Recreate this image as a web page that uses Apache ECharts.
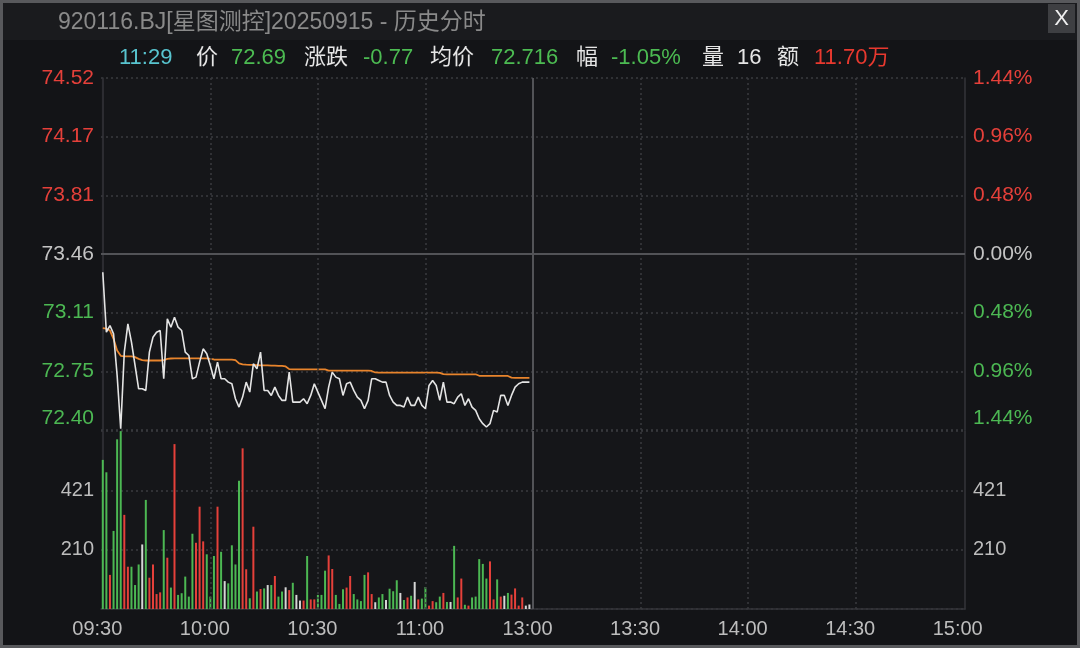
<!DOCTYPE html>
<html>
<head>
<meta charset="utf-8">
<style>html,body{margin:0;padding:0;background:#131417;}#c{width:1080px;height:648px;}</style>
<script src="https://cdn.jsdelivr.net/npm/echarts@6.0.0/dist/echarts.min.js"></script>
</head>
<body>
<div id="c"></div>
<script>
// ---------- data ----------
const PRE_CLOSE = 73.46;
const PCT_RANGE = 1.44;
const PCT_STEP = 0.48;
const VOL_MAX = 631.5;
const VOL_STEP = 210.5;
const timeLabels = ['09:30','10:00','10:30','11:00','13:00','13:30','14:00','14:30','15:00'];
const timeTickMinutes = [0,30,60,90,120,150,180,210,240];

const prices = [
 73.35,72.99,73.03,72.98,72.73,72.41,72.87,73.04,72.93,72.79,
 72.65,72.65,72.64,72.87,72.96,72.99,73.00,72.71,73.07,73.02,
 73.08,73.02,73.00,72.87,72.85,72.71,72.72,72.81,72.89,72.86,
 72.79,72.71,72.81,72.71,72.71,72.69,72.68,72.59,72.54,72.60,
 72.69,72.63,72.80,72.77,72.87,72.64,72.64,72.61,72.66,72.61,
 72.58,72.58,72.75,72.57,72.57,72.57,72.59,72.56,72.61,72.68,
 72.63,72.58,72.53,72.66,72.75,72.72,72.71,72.61,72.68,72.69,
 72.64,72.60,72.58,72.53,72.58,72.71,72.71,72.70,72.69,72.69,
 72.61,72.57,72.55,72.55,72.54,72.60,72.55,72.55,72.60,72.55,
 72.53,72.67,72.70,72.67,72.58,72.69,72.57,72.57,72.56,72.60,
 72.62,72.55,72.59,72.54,72.52,72.47,72.44,72.42,72.44,72.52,
 72.51,72.61,72.61,72.55,72.61,72.66,72.68,72.69,72.69,72.69
];
const avgPrices = [
 73.014,73.012,73.000,72.950,72.880,72.848,72.845,72.845,72.845,72.840,
 72.830,72.822,72.820,72.820,72.820,72.820,72.820,72.822,72.830,72.832,
 72.833,72.833,72.833,72.833,72.833,72.833,72.833,72.833,72.833,72.833,
 72.830,72.826,72.825,72.825,72.825,72.825,72.825,72.822,72.803,72.797,
 72.795,72.794,72.793,72.792,72.791,72.790,72.790,72.789,72.789,72.788,
 72.787,72.784,72.768,72.767,72.767,72.767,72.767,72.767,72.767,72.767,
 72.767,72.767,72.766,72.759,72.759,72.759,72.759,72.759,72.759,72.759,
 72.759,72.759,72.759,72.759,72.759,72.757,72.748,72.747,72.747,72.747,
 72.747,72.747,72.747,72.747,72.747,72.747,72.747,72.747,72.747,72.747,
 72.747,72.747,72.747,72.747,72.746,72.738,72.737,72.737,72.737,72.737,
 72.737,72.737,72.737,72.737,72.737,72.728,72.727,72.727,72.727,72.727,
 72.727,72.727,72.727,72.727,72.717,72.716,72.716,72.716,72.716,72.716
];
const volumes = [
 529,485,121,277,602,631,334,150,150,85,
 158,229,387,111,158,53,59,280,182,76,
 585,50,56,115,44,267,235,363,240,194,
 44,188,363,203,99,91,226,158,455,570,
 141,38,292,62,71,73,85,85,117,44,
 62,77,67,93,50,30,30,188,34,34,
 50,50,136,190,142,50,18,70,76,117,
 53,34,28,121,130,53,24,41,53,32,
 72,63,102,57,32,41,47,96,34,37,
 78,12,28,24,44,57,25,25,224,41,
 108,15,12,41,44,177,160,108,169,34,
 105,44,47,57,51,73,12,41,12,16
];
// bar direction per minute: r = up, g = down, w = unchanged
const volDir = [
 'g','g','r','g','g','g','r','r','g','g',
 'g','w','g','r','r','r','r','g','r','g',
 'r','g','g','g','g','g','r','r','r','g',
 'g','g','r','g','w','g','g','g','g','r',
 'r','g','r','g','r','g','w','g','r','g',
 'g','w','r','g','w','w','r','g','r','r',
 'g','g','g','r','r','g','g','g','r','r',
 'g','g','g','g','r','r','w','g','g','w',
 'g','g','g','w','g','r','g','w','r','g',
 'g','r','r','g','g','r','g','w','g','r',
 'r','g','r','g','g','g','g','g','r','r',
 'g','r','w','g','r','r','r','r','w','w'
];
const headerItems = [
 {t:'11:29', c:'cyan', x:119},
 {t:'价', c:'white', x:196},
 {t:'72.69', c:'green', x:231},
 {t:'涨跌', c:'white', x:304},
 {t:'-0.77', c:'green', x:363},
 {t:'均价', c:'white', x:430},
 {t:'72.716', c:'green', x:491},
 {t:'幅', c:'white', x:576},
 {t:'-1.05%', c:'green', x:611},
 {t:'量', c:'white', x:702},
 {t:'16', c:'white', x:737},
 {t:'额', c:'white', x:777},
 {t:'11.70万', c:'red', x:814}
];
const titleText = '920116.BJ[星图测控]20250915 - 历史分时';

// ---------- styles ----------
const RED = '#e5403a', GREEN = '#4cb853', WHITE_BAR = '#d6d6d6', GREY = '#c4c4c4';
const FONT = '"Liberation Sans", "Noto Sans CJK SC", sans-serif';
const colorMap = {cyan:'#58c4cf', white:'#e6e6e6', green:'#4cbb52', red:'#e8392f'};
const dirColor = {r: RED, g: GREEN, w: WHITE_BAR};
const GRID_DOT = {color:'#3a3b3f', type:[2,3], width:1.5};
const SOLID = {color:'#525357', type:'solid', width:2};
const EDGE = {color:'#34353a', type:'solid', width:1.5};

const toPct = p => (p / PRE_CLOSE - 1) * 100;
const isMin = v => Math.abs(v + PCT_RANGE) < 1e-6;
const key = v => v > 1e-6 ? 'up' : (v < -1e-6 ? 'dn' : 'eq');
const richBase = {
  up:{color:RED, fontSize:21, fontFamily:FONT},
  dn:{color:GREEN, fontSize:21, fontFamily:FONT},
  eq:{color:GREY, fontSize:21, fontFamily:FONT},
  dnLo:{color:GREEN, fontSize:21, fontFamily:FONT, padding:[0,0,24,0]},
  v:{color:'#bdbdbd', fontSize:20, fontFamily:FONT}
};

const vLines = [30,60,90,150,180,210].map(x => ({xAxis:x, lineStyle:GRID_DOT}));
vLines.push({xAxis:120, lineStyle:SOLID});

const chart = echarts.init(document.getElementById('c'), null, {renderer:'canvas'});
const graphics = [
  {type:'rect', shape:{x:0,y:0,width:1080,height:40}, style:{fill:'#1a1b1e'}, z:-10},
  {type:'rect', shape:{x:1.5,y:1.5,width:1077,height:645}, style:{fill:'none', stroke:'#58595c', lineWidth:3}, z:100},
  {type:'rect', shape:{x:1048,y:4,width:27,height:29}, style:{fill:'#3e3f42'}, z:50},
  {type:'text', x:1061.5, y:19, style:{text:'X', fill:'#f0f0f0', font:'22px ' + FONT, textAlign:'center', textVerticalAlign:'middle', align:'center', verticalAlign:'middle'}, z:51},
  {type:'text', x:58, y:23, style:{text:titleText, fill:'#8a8a8a', font:'23px ' + FONT, textAlign:'left', textVerticalAlign:'middle', align:'left', verticalAlign:'middle'}, z:50}
];
headerItems.forEach(h => graphics.push({
  type:'text', x:h.x, y:58,
  style:{text:h.t, fill:colorMap[h.c], font:'22px ' + FONT, textAlign:'left', textVerticalAlign:'middle', align:'left', verticalAlign:'middle'}, z:50
}));

const option = {
  backgroundColor:'#131417',
  animation:false,
  graphic: graphics,
  grid:[
    {left:101, top:78, width:864, height:352, show:true, borderWidth:0, backgroundColor:'#151619'},
    {left:101, top:431, width:864, height:178, show:true, borderWidth:0, backgroundColor:'#151619'}
  ],
  xAxis:[
    {gridIndex:0, type:'value', min:-0.5, max:240.5, axisLine:{show:false}, axisTick:{show:false}, axisLabel:{show:false}, splitLine:{show:false}},
    {gridIndex:1, type:'value', min:-0.5, max:240.5, axisLine:{show:true, onZero:false, lineStyle:EDGE}, axisTick:{show:false}, splitLine:{show:false},
     axisLabel:{customValues:timeTickMinutes, formatter:v => timeLabels[timeTickMinutes.indexOf(v)] || '',
       color:'#bdbdbd', fontSize:20, fontFamily:FONT, margin:10, padding:[0,11,0,0]}}
  ],
  yAxis:[
    {gridIndex:0, position:'left', type:'value', min:-PCT_RANGE, max:PCT_RANGE, interval:PCT_STEP,
     axisLine:{show:true, lineStyle:EDGE}, axisTick:{show:false}, splitLine:{show:true, lineStyle:GRID_DOT},
     axisLabel:{margin:7, rich:richBase, formatter:v => {
        const k = key(v) + (isMin(v) ? 'Lo' : '');
        return '{' + k + '|' + (PRE_CLOSE * (1 + v / 100)).toFixed(2) + '}';
     }}},
    {gridIndex:0, position:'right', type:'value', min:-PCT_RANGE, max:PCT_RANGE, interval:PCT_STEP,
     axisLine:{show:true, lineStyle:EDGE}, axisTick:{show:false}, splitLine:{show:false},
     axisLabel:{margin:8, rich:richBase, formatter:v => {
        const k = key(v) + (isMin(v) ? 'Lo' : '');
        return '{' + k + '|' + Math.abs(v).toFixed(2) + '%}';
     }}},
    {gridIndex:1, position:'left', type:'value', min:0, max:VOL_MAX, interval:VOL_STEP,
     axisLine:{show:true, lineStyle:EDGE}, axisTick:{show:false}, splitLine:{show:true, lineStyle:GRID_DOT},
     axisLabel:{margin:7, rich:richBase, formatter:v => (v > 0 && v < VOL_MAX - 1) ? '{v|' + Math.floor(v) + '}' : ''}},
    {gridIndex:1, position:'right', type:'value', min:0, max:VOL_MAX, interval:VOL_STEP,
     axisLine:{show:true, lineStyle:EDGE}, axisTick:{show:false}, splitLine:{show:false},
     axisLabel:{margin:8, rich:richBase, formatter:v => (v > 0 && v < VOL_MAX - 1) ? '{v|' + Math.floor(v) + '}' : ''}}
  ],
  series:[
    {type:'line', name:'price', xAxisIndex:0, yAxisIndex:0, showSymbol:false, z:5,
     data:prices.map((p,i) => [i, toPct(p)]),
     lineStyle:{color:'#e4e4e4', width:1.6},
     markLine:{silent:true, symbol:'none', label:{show:false}, animation:false,
       data: vLines.concat([{yAxis:0, lineStyle:SOLID}])}},
    {type:'line', name:'avg', xAxisIndex:0, yAxisIndex:0, showSymbol:false, z:4,
     data:avgPrices.map((p,i) => [i, toPct(p)]),
     lineStyle:{color:'#e8842c', width:1.8}},
    {type:'bar', name:'vol', xAxisIndex:1, yAxisIndex:2, barWidth:2,
     data:volumes.map((v,i) => ({value:[i, v], itemStyle:{color:dirColor[volDir[i]]}})),
     markLine:{silent:true, symbol:'none', label:{show:false}, animation:false, data:vLines}}
  ]
};
chart.setOption(option);
</script>
</body>
</html>
